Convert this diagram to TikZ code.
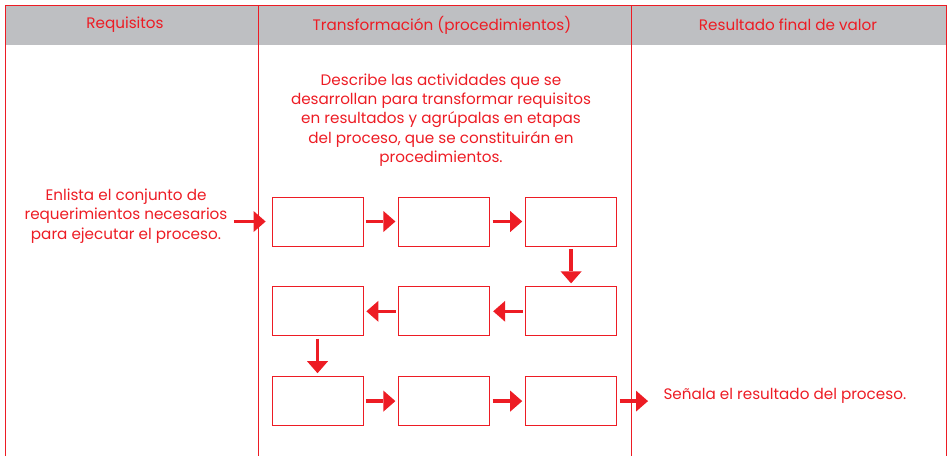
\documentclass[tikz,border=0pt]{standalone}
\usepackage{fontspec}
\setmainfont{Poppins}
\usetikzlibrary{arrows.meta,positioning}
\definecolor{rojo}{RGB}{237,28,36}
\definecolor{gris}{RGB}{190,191,194}

\begin{document}
\begin{tikzpicture}[x=1pt,y=-1pt,->,>={Triangle[length=12pt,width=21pt,line width=0pt]},
  node distance=40pt and 35pt,
  paso/.style={rectangle,draw=rojo,line width=0.8pt,minimum width=91pt,minimum height=49pt,inner sep=0pt},
  texto/.style={text=rojo,font=\fontsize{15.2}{19.3}\selectfont,align=center},
  flecha/.style={color=rojo,line width=3.6pt,shorten <=2.5pt,shorten >=3pt}]

  \useasboundingbox (0,0) rectangle (947,456);
  % cabecera
  \fill[gris] (5,5) rectangle (946,45);
  \draw[-,rojo,line width=0.8pt] (5,456) -- (5,5) -- (946,5) -- (946,456);
  \draw[-,rojo,line width=0.8pt] (258,5) -- (258,456);
  \draw[-,rojo,line width=0.8pt] (631,5) -- (631,456);

  \node[texto] (h1) at (125,25) {Requisitos};
  \node[texto] (h2) at (442,25) {Transformación (procedimientos)};
  \node[texto] (h3) at (788,25) {Resultado final de valor};

  \node[texto] (desc) at (441,120) {Describe las actividades que se\\desarrollan para transformar requisitos\\en resultados y agrúpalas en etapas\\del proceso, que se constituirán en\\procedimientos.};
  \node[texto] (req) at (126,216) {Enlista el conjunto de\\requerimientos necesarios\\para ejecutar el proceso.};

  % pasos
  \node[paso] (p1) at (317.5,221.5) {};
  \node[paso] (p2) [right=of p1] {};
  \node[paso] (p3) [right=of p2] {};
  \node[paso] (p6) [below=of p1] {};
  \node[paso] (p5) [right=of p6] {};
  \node[paso] (p4) [right=of p5] {};
  \node[paso] (p7) [below=of p6] {};
  \node[paso] (p8) [right=of p7] {};
  \node[paso] (p9) [right=of p8] {};

  \node[texto,anchor=west] (res) at (660,396) {Señala el resultado del proceso.};

  \path[flecha]
    (p1) edge (p2)
    (p2) edge (p3)
    (p3) edge (p4)
    (p4) edge (p5)
    (p5) edge (p6)
    (p6) edge (p7)
    (p7) edge (p8)
    (p8) edge (p9);
  \draw[flecha,shorten <=3pt,shorten >=6pt] (req.east |- p1) -- (p1);
  \draw[flecha,shorten >=12pt] (p9) -- (res.west |- p9);
\end{tikzpicture}
\end{document}
